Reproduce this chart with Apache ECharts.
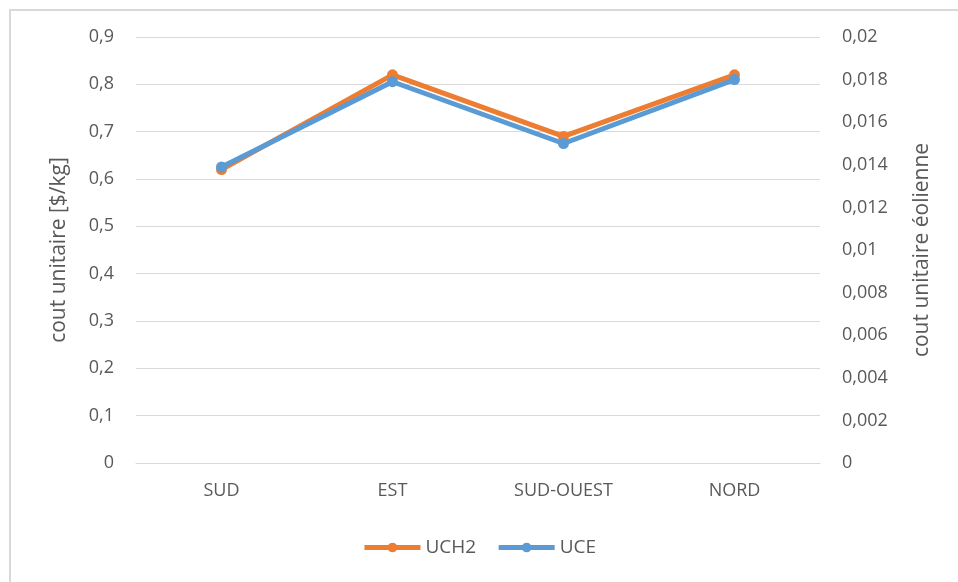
<!DOCTYPE html>
<html>
<head>
    <meta charset="utf-8">
    <title>cout unitaire</title>
    <script src="https://cdn.jsdelivr.net/npm/echarts@6/dist/echarts.min.js"></script>
    <style>
        html, body { margin: 0; padding: 0; background: #ffffff; }
        #cadre {
            position: absolute; left: 9px; top: 9px; width: 960px; height: 590px;
            border-left: 2px solid #d9d9d9; border-top: 2px solid #d9d9d9;
        }
        #graphique { position: absolute; left: 0; top: 0; width: 958px; height: 582px; }
    </style>
</head>
<body>
<div id="cadre"></div>
<div id="graphique"></div>
<script>
    var regions = ['SUD', 'EST', 'SUD-OUEST', 'NORD'];
    var uch2 = [0.62, 0.82, 0.69, 0.82];
    var uce = [0.0139, 0.0179, 0.0150, 0.0180];

    var police = '"Open Sans", Lato, sans-serif';
    var gris = '#595959';

    // virgule décimale comme dans Excel
    function virgule(v) {
        return String(+v.toFixed(4)).replace('.', ',');
    }

    var chart = echarts.init(document.getElementById('graphique'));
    chart.setOption({
        animation: false,
        textStyle: { fontFamily: police },
        grid: { left: 136, right: 138, top: 37, bottom: 119 },
        legend: {
            bottom: 20,
            left: 'center',
            itemWidth: 56,
            itemHeight: 12,
            itemGap: 20,
            lineStyle: { width: 5 },
            textStyle: { color: gris, fontSize: 19, fontFamily: police },
            data: ['UCH2', 'UCE']
        },
        xAxis: {
            type: 'category',
            data: regions,
            axisLine: { lineStyle: { color: '#d9d9d9', width: 1 } },
            axisTick: { show: false },
            axisLabel: { color: gris, fontSize: 18, margin: 19 }
        },
        yAxis: [{
            type: 'value',
            min: 0, max: 0.9, interval: 0.1,
            name: 'cout unitaire [$/kg]',
            nameLocation: 'middle',
            nameGap: 66,
            nameTextStyle: { color: gris, fontSize: 21 },
            axisLine: { show: false },
            axisTick: { show: false },
            axisLabel: { color: gris, fontSize: 18, margin: 22, formatter: virgule },
            splitLine: { lineStyle: { color: '#d9d9d9', width: 1 } }
        }, {
            type: 'value',
            min: 0, max: 0.02, interval: 0.002,
            name: 'cout unitaire éolienne',
            nameLocation: 'middle',
            nameGap: 92,
            nameRotate: 90,
            nameTextStyle: { color: gris, fontSize: 21 },
            axisLine: { show: false },
            axisTick: { show: false },
            axisLabel: { color: gris, fontSize: 18, margin: 22, formatter: virgule },
            splitLine: { show: false }
        }],
        series: [{
            name: 'UCH2',
            type: 'line',
            yAxisIndex: 0,
            data: uch2,
            symbol: 'circle',
            symbolSize: 11,
            itemStyle: { color: '#ed7d31' },
            lineStyle: { color: '#ed7d31', width: 5 }
        }, {
            name: 'UCE',
            type: 'line',
            yAxisIndex: 1,
            data: uce,
            symbol: 'circle',
            symbolSize: 11,
            itemStyle: { color: '#5b9bd5' },
            lineStyle: { color: '#5b9bd5', width: 5 }
        }]
    });
</script>
</body>
</html>
